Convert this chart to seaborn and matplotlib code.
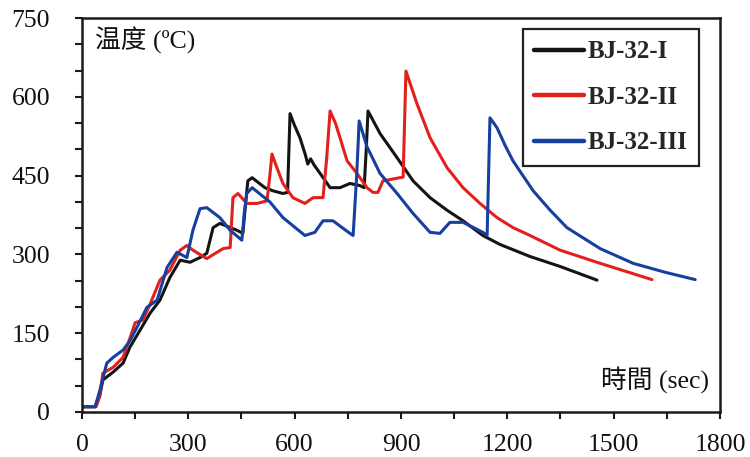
import pandas as pd
import seaborn as sns
import matplotlib.pyplot as plt
from matplotlib.ticker import MultipleLocator
from matplotlib.lines import Line2D

# Furnace temperature histories of three specimens (time in s, temperature in °C)
series_names = ["BJ-32-I", "BJ-32-II", "BJ-32-III"]

t_bj1 = [0, 37, 50, 59, 88, 116, 135, 164, 192, 220, 248, 277, 305, 333, 352, 370,
         389, 437, 454, 462, 468, 480, 516, 539, 567, 580, 587, 600, 615, 630, 637,
         645, 655, 672, 700, 728, 756, 784, 796, 802, 807, 841, 889, 934, 982, 1030,
         1075, 1131, 1179, 1264, 1349, 1453]
T_bj1 = [10, 10, 30, 61, 76, 93, 123, 156, 188, 213, 256, 289, 285, 294, 302, 351,
         359, 346, 340, 400, 440, 446, 427, 421, 416, 418, 568, 545, 522, 490, 472,
         482, 470, 454, 427, 427, 435, 431, 427, 500, 573, 530, 484, 440, 408, 384,
         364, 336, 319, 296, 277, 251]

t_bj2 = [0, 40, 50, 59, 88, 116, 135, 150, 172, 192, 220, 248, 277, 296, 313, 352,
         398, 418, 426, 440, 465, 494, 522, 530, 536, 550, 567, 595, 629, 652, 680,
         690, 700, 715, 728, 748, 776, 804, 821, 835, 849, 897, 906, 914, 945, 982,
         1030, 1075, 1123, 1171, 1216, 1264, 1349, 1462, 1608]
T_bj2 = [10, 10, 30, 74, 85, 104, 140, 170, 175, 205, 251, 270, 308, 317, 308, 292,
         311, 313, 408, 416, 397, 397, 402, 450, 491, 465, 435, 408, 397, 408, 408,
         480, 573, 550, 522, 478, 454, 427, 418, 418, 440, 446, 447, 649, 587, 522,
         465, 427, 397, 370, 351, 336, 308, 283, 252]

t_bj3 = [0, 37, 50, 70, 88, 116, 135, 155, 183, 212, 240, 268, 296, 313, 333, 352,
         389, 418, 451, 458, 465, 480, 530, 567, 629, 657, 680, 708, 756, 765, 775,
         782, 804, 841, 889, 934, 982, 1010, 1038, 1075, 1131, 1143, 1151, 1171, 1194,
         1216, 1273, 1321, 1368, 1462, 1555, 1645, 1730]
T_bj3 = [10, 10, 40, 93, 104, 118, 135, 161, 199, 213, 275, 304, 294, 346, 387, 389,
         370, 346, 327, 380, 416, 427, 400, 370, 336, 342, 364, 364, 340, 336, 450,
         554, 505, 454, 416, 378, 342, 340, 361, 361, 342, 336, 560, 541, 507, 478,
         421, 384, 351, 311, 283, 266, 252]

x_ticks = [0, 300, 600, 900, 1200, 1500, 1800]
y_ticks = [0, 150, 300, 450, 600, 750]
line_colors = ["#141414", "#e3211c", "#15409e"]

frames = []
for name, t, T in zip(series_names, [t_bj1, t_bj2, t_bj3], [T_bj1, T_bj2, T_bj3]):
    frames.append(pd.DataFrame({"time": t, "temp": T, "specimen": name}))
df = pd.concat(frames, ignore_index=True)

sns.set_theme(style="ticks")
plt.rcParams["font.family"] = ["Liberation Serif", "Noto Sans CJK TC"]

fig = plt.figure(figsize=(7.5, 4.57), dpi=100)
ax = fig.add_axes([0.1093, 0.0985, 0.8507, 0.8621])

sns.lineplot(data=df, x="time", y="temp", hue="specimen", hue_order=series_names,
             palette=line_colors, sort=False, estimator=None, linewidth=2.2,
             legend=False, ax=ax)

ax.set_xlim(0, 1800)
ax.set_ylim(0, 750)
ax.set_xticks(x_ticks)
ax.set_yticks(y_ticks)
ax.xaxis.set_minor_locator(MultipleLocator(150))
ax.yaxis.set_minor_locator(MultipleLocator(50))
ax.set_xlabel("")
ax.set_ylabel("")

for side in ["left", "right", "top", "bottom"]:
    ax.spines[side].set_visible(True)
    ax.spines[side].set_linewidth(1.8)
    ax.spines[side].set_color("#1a1a1a")

ax.tick_params(axis="both", which="both", direction="out", width=1.5,
               color="#1a1a1a", labelsize=18.5, labelcolor="#111111")
ax.tick_params(axis="y", which="both", length=5, pad=18)
ax.tick_params(axis="x", which="both", length=5, pad=11)

ax.text(0.02, 0.943, "温度 (ºC)", transform=ax.transAxes, fontsize=18.5,
        ha="left", va="center", color="#111111")
ax.text(0.983, 0.08, "時間 (sec)", transform=ax.transAxes, fontsize=18.5,
        ha="right", va="center", color="#111111")

handles = [Line2D([], [], color=c, linewidth=3.2) for c in line_colors]
leg = ax.legend(handles, series_names, loc="upper right",
                bbox_to_anchor=(0.967, 0.972), frameon=True, fancybox=False,
                prop={"family": "Liberation Serif", "weight": "bold", "size": 18},
                handlelength=2.0, handletextpad=0.15, labelspacing=0.9,
                borderpad=0.45, borderaxespad=0.0)
leg.get_frame().set_edgecolor("#222222")
leg.get_frame().set_linewidth(1.6)
leg.get_frame().set_alpha(1.0)

fig.savefig("out.png", dpi=100, facecolor="white")
